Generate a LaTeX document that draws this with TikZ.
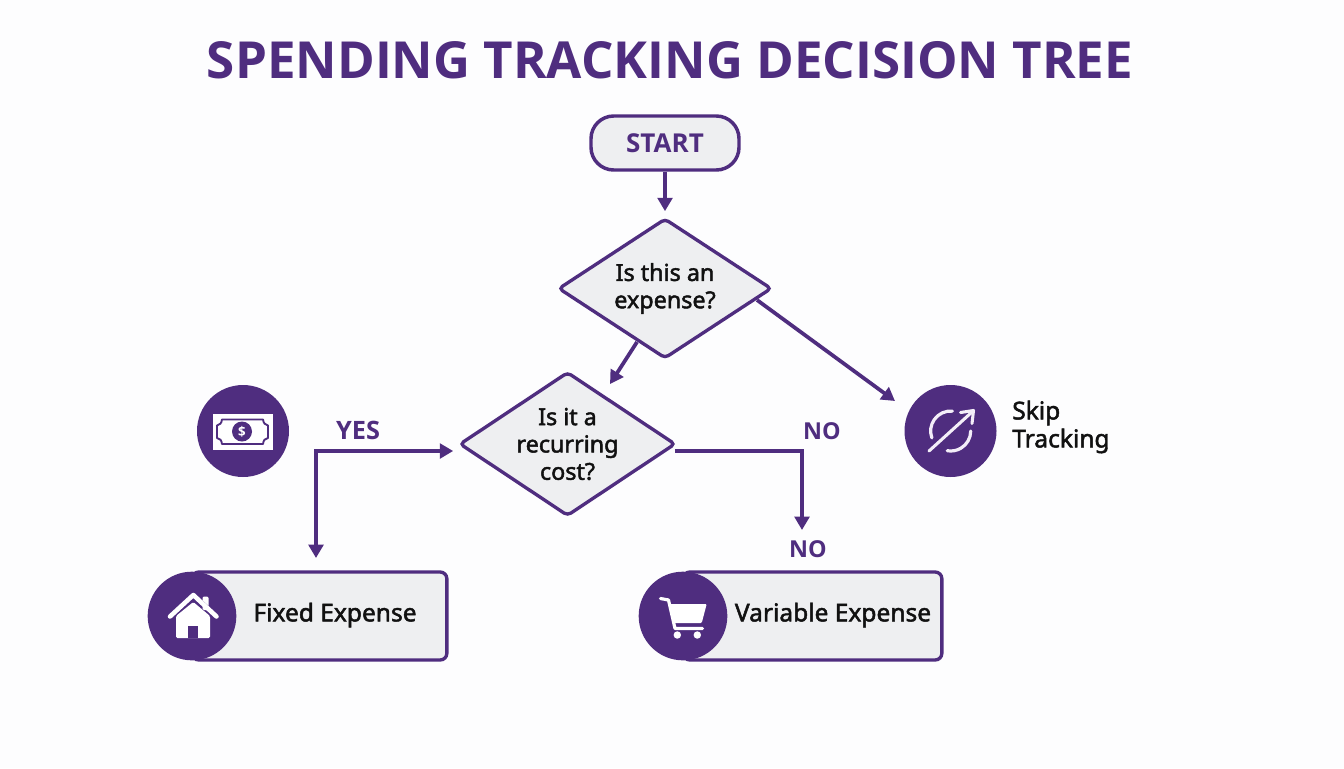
\documentclass[tikz,border=0pt]{standalone}
\usepackage{fontspec}
\setmainfont{Noto Sans}
\newfontfamily\medf[FakeBold=2]{Noto Sans}
\newfontfamily\boldf{Open Sans}[BoldFont=* Bold]
\usetikzlibrary{shapes.geometric,arrows.meta}
\definecolor{pur}{HTML}{4F2D7F}
\definecolor{boxfill}{HTML}{EEEFF1}
\definecolor{bgc}{HTML}{FDFDFE}
\definecolor{ink}{HTML}{111111}
\definecolor{iconlt}{HTML}{F3EEF8}
\tikzset{
  x=0.75pt,y=-0.75pt,
  titletext/.style={text=pur,font=\boldf\bfseries\fontsize{38.3}{42}\selectfont,inner sep=0},
  labeltext/.style={text=pur,font=\boldf\bfseries\fontsize{17.5}{20}\selectfont,inner sep=0},
  widelabel/.style={text=pur,font=\boldf\bfseries\fontsize{19}{20}\selectfont,inner sep=0},
  decision/.style={diamond,draw=pur,fill=boxfill,line width=2.5pt,rounded corners=3pt,inner sep=0,outer sep=0,align=center,text=ink,font=\medf\fontsize{17.5}{20.5}\selectfont},
  startbox/.style={rectangle,draw=pur,fill=boxfill,line width=2.6pt,rounded corners=17pt,minimum width=111pt,minimum height=40.5pt,text=pur,font=\boldf\bfseries\fontsize{19.5}{20}\selectfont,inner sep=0},
  resultbox/.style={rectangle,draw=pur,fill=boxfill,line width=2.5pt,rounded corners=5pt,minimum height=66pt,inner sep=0,outer sep=0},
  iconcircle/.style={circle,fill=pur,minimum size=69pt,inner sep=0,outer sep=0},
  tagcircle/.style={circle,fill=pur,minimum size=66.5pt,inner sep=0,outer sep=0},
  bodytext/.style={text=ink,font=\medf\fontsize{18.4}{21}\selectfont,inner sep=0},
  flow/.style={draw=pur,line width=2.8pt,-{Triangle[length=10pt,width=11pt]}},
  flowboth/.style={draw=pur,line width=2.8pt,{Triangle[length=10pt,width=11pt]}-{Triangle[length=10pt,width=11pt]}},
}
\begin{document}
\begin{tikzpicture}
\useasboundingbox (0,0) rectangle (1344,768);
\fill[bgc] (0,0) rectangle (1344,768);
\node[titletext] (title) at (670,60) {SPENDING TRACKING DECISION TREE};

\node[startbox] (start) at (665,143) {START};
\node[decision,minimum width=159pt,minimum height=104pt,aspect=1.52] (q1) at (665,288.5) {Is this an\\expense?};
\node[decision,minimum width=161pt,minimum height=107pt,aspect=1.5] (q2) at (567.5,444) {Is it a\\recurring\\cost?};

\node[iconcircle] (money) at (243,431) {};
\node[iconcircle] (skip) at (950.5,431) {};
\node[bodytext,align=left,anchor=west] (skiplabel) at (1012,427) {Skip\\Tracking};

\node[resultbox,minimum width=191pt] (fixed) at (319.5,616) {};
\node[tagcircle] (fixedicon) at (192,616) {};
\node[bodytext] (fixedlabel) at (335,615) {Fixed Expense};
\node[resultbox,minimum width=194pt] (variable) at (812.5,616) {};
\node[tagcircle] (variableicon) at (683,616) {};
\node[bodytext] (variablelabel) at (833,615) {Variable Expense};

\node[widelabel] (yes) at (358,430) {YES};
\node[labeltext] (no1) at (822,431) {NO};
\node[labeltext] (no2) at (808,549) {NO};

% connectors
\draw[flow] (start.south) -- ([yshift=6pt]q1.north);
\coordinate (q1sw) at ([xshift=-28*0.75pt,yshift=-53.5*0.75pt]q1.center);
\coordinate (q2ne) at ([xshift=42.5*0.75pt,yshift=60*0.75pt]q2.center);
\draw[flow] (q1sw) -- (q2ne);
\coordinate (q1se) at ([xshift=92*0.75pt,yshift=-11.5*0.75pt]q1.center);
\coordinate (skipnw) at ([xshift=-55.5*0.75pt,yshift=30*0.75pt]skip.center);
\draw[flow] (q1se) -- (skipnw);
\coordinate (yesin) at ([xshift=-7*0.75pt,yshift=-7*0.75pt]q2.west);
\coordinate (fixedtop) at ([xshift=-3.5*0.75pt,yshift=14*0.75pt]fixed.north);
\draw[flowboth] (yesin) -| (fixedtop);
\coordinate (noout) at ([yshift=-7*0.75pt]q2.east);
\coordinate (vartop) at ([xshift=-10.5*0.75pt,yshift=42*0.75pt]variable.north);
\draw[flow] (noout) -| (vartop);

% money icon
\fill[white] (212.5,413.5) rectangle (272.5,449.5);
\draw[pur,line width=1.4pt,line join=round]
  (222,419.5) -- (263,419.5) .. controls (263.5,423) and (265,425) .. (268,425.5) -- (268,438) .. controls (265,438.5) and (263.5,440) .. (263,444) -- (222,444) .. controls (221.5,440) and (220,438.5) .. (217,438) -- (217,425.5) .. controls (220,425) and (221.5,423) .. (222,419.5) -- cycle;
\fill[pur] (242,431.5) circle[radius=7.5pt];
\node[text=white,font=\boldf\bfseries\fontsize{10}{10}\selectfont,inner sep=0] (dollar) at (242,431.5) {\$};

% skip icon
\draw[iconlt,line width=2.4pt,line cap=round] (952.4,411.1) arc[start angle=85,end angle=200,radius=15pt];
\draw[iconlt,line width=2.4pt,line cap=round] (970.7,431) arc[start angle=0,end angle=-100,radius=15pt];
\draw[draw=pur,line width=5pt] (935,445.5) -- (965,418);
\draw[iconlt,line width=2.3pt,line cap=round] (929,451) -- (972,412);
\draw[iconlt,line width=2.3pt,line cap=round,line join=round] (960.5,412.5) -- (973.5,410.5) -- (972,423.5);

% house icon
\fill[white,rounded corners=1pt] (202.5,596.5) rectangle (208.5,610);
\draw[pur,line width=3pt] (193.3,595) -- (218,617);
\draw[white,line width=3.4pt,line cap=round,line join=round] (170,616.5) -- (193.3,595) -- (216.5,616.5);
\fill[white,rounded corners=1pt] (176,616) -- (193.3,602) -- (210,616) -- (210,638) -- (176,638) -- cycle;
\fill[pur] (188.3,626) rectangle (198.3,638);

% cart icon
\draw[white,line width=2.4pt,line cap=round,line join=round] (660.5,598.5) -- (668.5,600) -- (675,628.5) -- (702.5,628.5);
\fill[white,rounded corners=0.8pt] (670,604) -- (706.7,604) -- (701.7,623) -- (674.5,623) -- cycle;
\fill[white] (677.3,635) circle[radius=2.8pt];
\fill[white] (697.3,635) circle[radius=2.8pt];
\end{tikzpicture}
\end{document}
